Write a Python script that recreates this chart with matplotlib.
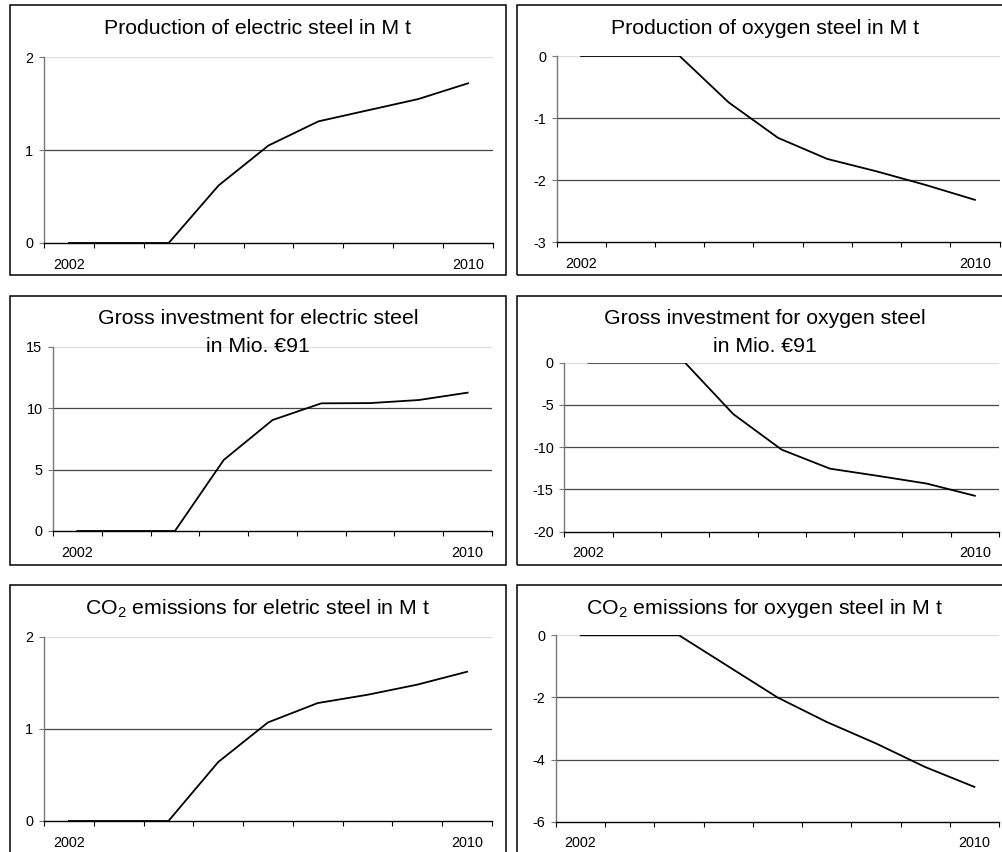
import matplotlib
matplotlib.use("Agg")
import matplotlib.pyplot as plt
from matplotlib.patches import Rectangle
import numpy as np

plt.rcParams['font.family'] = ['Liberation Sans', 'DejaVu Sans']
plt.rcParams['axes.unicode_minus'] = False
plt.rcParams['mathtext.fontset'] = 'custom'
plt.rcParams['mathtext.rm'] = 'Liberation Sans'
plt.rcParams['mathtext.it'] = 'Liberation Sans:italic'

# ---- data ----
years = ['2002', '2003', '2004', '2005', '2006', '2007', '2008', '2009', '2010']
elec_prod = [0, 0, 0, 0.62, 1.05, 1.31, 1.43, 1.55, 1.72]
oxy_prod = [0, 0, 0, -0.75, -1.32, -1.66, -1.86, -2.08, -2.32]
elec_inv = [0, 0, 0, 5.78, 9.03, 10.39, 10.41, 10.66, 11.26]
oxy_inv = [0, 0, 0, -6.09, -10.29, -12.54, -13.4, -14.3, -15.75]
elec_co2 = [0, 0, 0, 0.64, 1.07, 1.28, 1.37, 1.48, 1.62]
oxy_co2 = [0, 0, 0, -1.0, -2.0, -2.79, -3.48, -4.24, -4.88]

titles = [
    ["Production of electric steel in M t"],
    ["Production of oxygen steel in M t"],
    ["Gross investment for electric steel", "in Mio. €91"],
    ["Gross investment for oxygen steel", "in Mio. €91"],
    [r"CO$_\mathregular{2}$ emissions for eletric steel in M t"],
    [r"CO$_\mathregular{2}$ emissions for oxygen steel in M t"],
]
yticks_list = [[0, 1, 2], [-3, -2, -1, 0], [0, 5, 10, 15],
               [-20, -15, -10, -5, 0], [0, 1, 2], [-6, -4, -2, 0]]
series = [elec_prod, oxy_prod, elec_inv, oxy_inv, elec_co2, oxy_co2]

W, H = 1002, 852
fig = plt.figure(figsize=(W / 100, H / 100), dpi=100)
fig.patch.set_facecolor('white')


def rect(x0, y0, x1, y1):
    return [x0 / W, 1 - y1 / H, (x1 - x0) / W, (y1 - y0) / H]


# panel frames
frames = [(10, 5, 506, 275.5), (517, 5, 1013, 275.5),
          (10, 295.5, 506, 565), (517, 295.5, 1013, 565),
          (10, 585, 506, 870), (517, 585, 1013, 870)]
for (x0, y0, x1, y1) in frames:
    fig.patches.append(Rectangle((x0 / W, 1 - y1 / H), (x1 - x0) / W, (y1 - y0) / H,
                                 transform=fig.transFigure, fill=False,
                                 edgecolor='black', linewidth=1.1))

axes_px = [(44, 57.3, 493, 243), (556.5, 56, 999.5, 242),
           (53, 346.7, 492, 531), (564.3, 362.7, 999, 531.7),
           (44, 636.7, 492, 821), (556, 635.3, 999, 821.7)]
title_pos = [[(258, 28)], [(765, 28)],
             [(258, 318), (258, 346.7)], [(764.7, 318), (764.7, 346.7)],
             [(257.5, 609)], [(764, 609)]]

x = np.arange(len(years))
for i in range(6):
    ax = fig.add_axes(rect(*axes_px[i]))
    ax.set_facecolor('none')
    yt = yticks_list[i]
    ax.set_xlim(-0.5, len(years) - 0.5)
    ax.set_ylim(min(yt), max(yt))
    for s in ['top', 'right']:
        ax.spines[s].set_visible(False)
    ax.spines['left'].set_color('#777777')
    ax.spines['bottom'].set_color('black')
    ax.spines['left'].set_linewidth(1.0)
    ax.spines['bottom'].set_linewidth(1.0)
    # gridlines
    for v in yt:
        if v == min(yt):
            continue
        col = '#dddddd' if v == max(yt) else '#454545'
        ax.axhline(v, color=col, linewidth=0.9, zorder=1)
    ax.plot(x, series[i], color='black', linewidth=1.3, zorder=3, solid_joinstyle='miter')
    ax.set_yticks(yt)
    ax.set_yticklabels([str(v) for v in yt])
    ax.tick_params(axis='y', direction='out', length=3.6, width=0.8, color='#777777',
                   pad=4.0, labelsize=10.4)
    ax.set_xticks(np.arange(-0.5, len(years), 1))
    ax.set_xticklabels([''] * len(np.arange(-0.5, len(years), 1)))
    ax.tick_params(axis='x', which='major', direction='out', length=3.6, width=0.8,
                   color='black')
    ax.set_xticks([0, len(years) - 1], minor=True)
    ax.set_xticklabels([years[0], years[-1]], minor=True)
    ax.tick_params(axis='x', which='minor', length=0, pad=10.5, labelsize=10.4)
    for line, (tx, ty) in zip(titles[i], title_pos[i]):
        fig.text(tx / W, 1 - ty / H, line, ha='center', va='center', fontsize=15.3)

fig.savefig('out.png', dpi=100, facecolor='white')
